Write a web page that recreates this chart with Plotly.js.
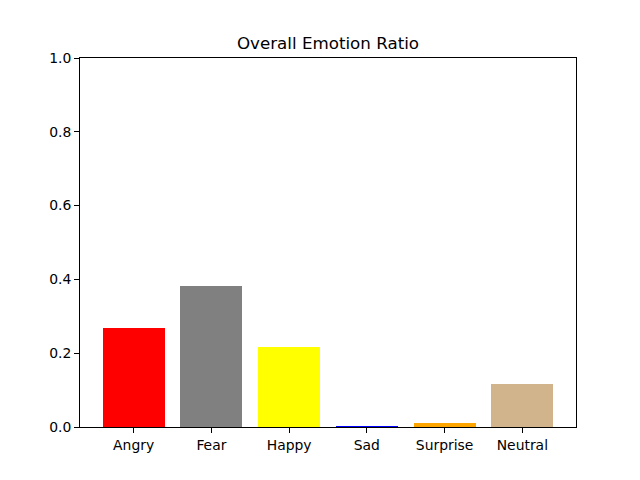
<!DOCTYPE html>
<html>
<head>
<meta charset="utf-8">
<script src="https://cdn.plot.ly/plotly-3.0.1.min.js"></script>
<style>html,body{margin:0;padding:0;background:#fff;}</style>
</head>
<body>
<div id="chart" style="width:640px;height:480px;"></div>
<script>
const categories = ["Angry", "Fear", "Happy", "Sad", "Surprise", "Neutral"];
const ratios = [0.268, 0.382, 0.217, 0.003, 0.0115, 0.1165];
const colors = ["red", "gray", "yellow", "blue", "orange", "tan"];
const yTicks = [0, 0.2, 0.4, 0.6, 0.8, 1.0];
const yTickLabels = ["0.0", "0.2", "0.4", "0.6", "0.8", "1.0"];

const trace = {
  type: "bar",
  x: categories.map((c, i) => i),
  y: ratios,
  width: 0.8,
  marker: {color: colors, line: {width: 0}},
  hoverinfo: "x+y"
};

const layout = {
  width: 640, height: 480,
  margin: {l: 80, r: 64, t: 58, b: 53},
  paper_bgcolor: "#fff", plot_bgcolor: "#fff",
  font: {family: "DejaVu Sans", size: 13.9, color: "#000"},
  title: {text: "Overall Emotion Ratio", font: {family: "DejaVu Sans", size: 16.7, color: "#000"},
          x: 0.5, xref: "paper", y: 1, yref: "paper", yanchor: "bottom", pad: {b: 9}},
  showlegend: false,
  bargap: 0,
  xaxis: {
    range: [-0.69, 5.69],
    tickmode: "array", tickvals: categories.map((c, i) => i), ticktext: categories,
    ticks: "outside", ticklen: 5, tickwidth: 1, tickcolor: "#000",
    showline: true, linecolor: "#000", linewidth: 1, mirror: true,
    showgrid: false, zeroline: false, fixedrange: true
  },
  yaxis: {
    range: [0, 1],
    tickmode: "array", tickvals: yTicks, ticktext: yTickLabels,
    ticks: "outside", ticklen: 5, tickwidth: 1, tickcolor: "#000",
    showline: true, linecolor: "#000", linewidth: 1, mirror: true,
    showgrid: false, zeroline: false, fixedrange: true
  }
};

Plotly.newPlot("chart", [trace], layout, {displayModeBar: false, staticPlot: true});
</script>
</body>
</html>
